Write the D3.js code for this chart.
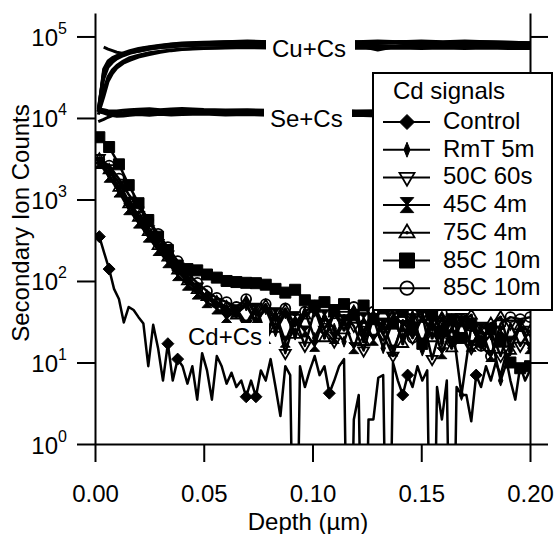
<!DOCTYPE html>
<html>
<head>
<meta charset="utf-8">
<style>
  body { margin: 0; background: #fff; }
  svg text { font-family: "Liberation Sans", Arial, sans-serif; fill: #000; font-size: 24px; }
  .axis path, .axis line { stroke: #000; stroke-width: 2; }
  .trace { fill: none; stroke: #000; stroke-linejoin: round; }
</style>
</head>
<body>
<svg id="chart" width="558" height="534"></svg>
<script src="https://cdn.jsdelivr.net/npm/d3@7"></script>
<script>
// Cu / Se matrix signals (shared depth grid, um)
const cuDepth = [0.0015, 0.004, 0.006, 0.008, 0.010, 0.013, 0.016, 0.020, 0.025, 0.030, 0.035, 0.040, 0.050, 0.060,
                 0.070, 0.080, 0.090, 0.100, 0.110, 0.120, 0.130, 0.140, 0.150, 0.160, 0.170, 0.180, 0.190, 0.200]
const cu1 = [12e3, 38e3, 47e3, 52e3, 56e3, 61e3, 65e3, 69e3, 72e3, 75e3, 77e3, 79e3, 81e3, 82e3, 82e3, 81e3, 82e3, 83e3, 82e3, 81e3, 82e3, 83e3, 82e3, 83e3, 82e3, 81e3, 80e3, 79e3]
const cu2 = [13e3, 35e3, 44e3, 50e3, 54e3, 60e3, 65e3, 70e3, 74e3, 77e3, 80e3, 82e3, 84e3, 86e3, 87e3, 86e3, 87e3, 86e3, 87e3, 86e3, 85e3, 87e3, 86e3, 85e3, 87e3, 86e3, 85e3, 84e3]
const cu3 = [12e3, 22e3, 32e3, 39e3, 44e3, 50e3, 55e3, 59e3, 63e3, 66e3, 68e3, 70e3, 72e3, 73e3, 74e3, 74e3, 75e3, 74e3, 75e3, 74e3, 75e3, 74e3, 75e3, 74e3, 73e3, 74e3, 73e3, 73e3]
const cu4 = [11e3, 18e3, 28e3, 35e3, 41e3, 47e3, 51e3, 56e3, 60e3, 64e3, 67e3, 69e3, 71e3, 72e3, 73e3, 72e3, 73e3, 72e3, 71e3, 72e3, 71e3, 72e3, 71e3, 72e3, 71e3, 72e3, 71e3, 71e3]
const cu5 = [null, 74e3, 70e3, 67e3, 64e3, 62e3, 63e3, 66e3, 70e3, 73e3, 75e3, 77e3, 79e3, 80e3, 81e3, 80e3, 81e3, 80e3, 79e3, 78e3, 68e3, 77e3, 80e3, 81e3, 80e3, 81e3, 80e3, 79e3]
const cu6 = [12e3, 40e3, 50e3, 55e3, 58e3, 63e3, 67e3, 71e3, 75e3, 78e3, 81e3, 83e3, 85e3, 86e3, 88e3, 86e3, 88e3, 86e3, 88e3, 86e3, 88e3, 86e3, 88e3, 86e3, 88e3, 86e3, 85e3, 84e3]
const cu7 = [12e3, 30e3, 42e3, 48e3, 53e3, 58e3, 62e3, 66e3, 70e3, 73e3, 75e3, 77e3, 78e3, 78e3, 77e3, 78e3, 77e3, 76e3, 77e3, 78e3, 77e3, 76e3, 77e3, 78e3, 77e3, 76e3, 76e3, 75e3]

const se1 = [12.5e3, 12.2e3, 11.8e3, 11.6e3, 11.5e3, 11.6e3, 11.8e3, 11.9e3, 12.1e3, 11.9e3, 12.2e3, 12.0e3, 11.8e3, 12.1e3, 11.9e3, 11.8e3, 11.9e3, 11.8e3, 11.7e3, 11.8e3, 11.7e3, 11.6e3, 11.5e3, 11.4e3, 11.3e3, 11.2e3, 11.1e3, 11.0e3]
const se2 = [13.0e3, 12.6e3, 12.3e3, 12.2e3, 12.2e3, 12.4e3, 12.6e3, 12.8e3, 13.0e3, 12.6e3, 12.9e3, 13.1e3, 12.7e3, 12.5e3, 12.6e3, 12.4e3, 12.5e3, 12.3e3, 12.4e3, 12.2e3, 12.3e3, 12.1e3, 12.0e3, 11.9e3, 11.8e3, 11.7e3, 11.6e3, 11.5e3]
const se3 = [12.0e3, 11.5e3, 11.0e3, 10.7e3, 10.5e3, 10.6e3, 10.8e3, 11.0e3, 10.8e3, 11.1e3, 10.9e3, 11.0e3, 11.2e3, 10.9e3, 11.0e3, 10.8e3, 10.9e3, 10.8e3, 10.7e3, 10.8e3, 10.6e3, 10.7e3, 10.5e3, 10.4e3, 10.4e3, 10.3e3, 10.2e3, 10.2e3]
const se4 = [9.0e3, 9.6e3, 10.2e3, 10.7e3, 11.0e3, 11.3e3, 11.5e3, 11.6e3, 11.4e3, 11.7e3, 11.5e3, 11.6e3, 11.5e3, 11.7e3, 11.5e3, 11.4e3, 11.5e3, 11.3e3, 11.4e3, 11.3e3, 11.2e3, 11.1e3, 11.0e3, 10.9e3, 10.8e3, 10.8e3, 10.7e3, 10.6e3]
const se5 = [12.8e3, 12.0e3, 11.5e3, 11.2e3, 11.1e3, 11.2e3, 11.4e3, 11.6e3, 11.5e3, 11.8e3, 11.6e3, 11.5e3, 11.7e3, 11.6e3, 11.4e3, 11.5e3, 11.6e3, 11.4e3, 11.5e3, 11.3e3, 11.2e3, 11.3e3, 11.1e3, 11.0e3, 10.9e3, 10.8e3, 10.8e3, 10.7e3]
const se6 = [12.2e3, 11.8e3, 11.3e3, 11.0e3, 10.9e3, 11.0e3, 11.2e3, 11.4e3, 11.6e3, 11.4e3, 11.5e3, 11.3e3, 11.5e3, 11.3e3, 11.4e3, 11.2e3, 11.3e3, 11.2e3, 11.1e3, 11.2e3, 11.0e3, 10.9e3, 10.9e3, 10.8e3, 10.7e3, 10.6e3, 10.6e3, 10.5e3]
const se7 = [11.8e3, 12.0e3, 11.7e3, 11.5e3, 11.4e3, 11.6e3, 11.9e3, 12.3e3, 12.0e3, 12.4e3, 12.1e3, 12.3e3, 12.0e3, 12.2e3, 12.3e3, 12.0e3, 11.9e3, 12.1e3, 12.0e3, 11.8e3, 11.7e3, 11.6e3, 11.5e3, 11.4e3, 11.3e3, 11.2e3, 11.1e3, 11.0e3]

// Cd signals: control is sampled finer than the annealed samples
const controlStart = 0.002, controlStep = 0.00225
const controlDepth = d3.range(89).map(i => controlStart + controlStep * i)
const control = [350, 220, 140, 80, 60, 31, 48, 44, 36, 30, 9, 29, 15, 6, 17, 6, 11, 9, 5.5, 9,
                 3.5, 13, 8, 3.5, 12, 9, 5.5, 7.5, 5, 6, 3.8, 6, 3.8, 8, 6, 11, 5, 2.2, 9, 7,
                 0, 9, 5, 8, 12, 7, 9, 4.2, 6, 9, 11, 0, 2, 4, 0, 2, 2, 6.5, 7, 0,
                 10, 6, 4, 7, 5, 9, 6, 8, 0, 5, 2, 6, 0, 5, 4, 4, 1.9, 7, 5, 9,
                 6, 10, 7, 12, 6, 3.5, 9, 6, 8]
const controlMarkerIdx = [0, 2, 14, 16, 30, 32, 47, 62, 63, 77]

const cdStart = 0.002, cdStep = 0.0045
const cdDepth = d3.range(45).map(i => cdStart + cdStep * i)
const rmt5m = [2900, 2000, 1300, 850, 560, 380, 260, 185, 130, 100, 75, 62, 50, 46, 40,
               50, 32, 45, 24, 40, 22, 42, 20, 36, 26, 18, 40, 22, 35, 15, 33, 20, 38, 14, 30, 18, 34, 4, 28, 16, 22, 6, 14, 30, 15]
const c50s60 = [3200, 2400, 1600, 950, 640, 430, 290, 210, 150, 108, 85, 62, 54, 40, 46,
                30, 48, 22, 42, 13, 35, 16, 44, 25, 18, 38, 28, 14, 36, 22, 12, 33, 20, 38, 11, 30, 18, 36, 15, 28, 24, 12, 30, 16, 25]
const c45m4 = [2800, 1900, 1250, 760, 520, 350, 240, 170, 118, 90, 70, 55, 46, 36, 42,
               28, 45, 20, 40, 18, 36, 24, 16, 38, 20, 33, 15, 35, 19, 30, 14, 28, 34, 17, 30, 13, 27, 32, 16, 26, 12, 24, 18, 28, 15]
const c75m4 = [3100, 2300, 1400, 880, 600, 400, 270, 195, 135, 100, 78, 64, 55, 48, 38,
               55, 30, 50, 26, 44, 22, 38, 46, 20, 40, 25, 42, 18, 36, 28, 44, 17, 34, 40, 20, 35, 15, 32, 38, 18, 30, 36, 14, 28, 24]
const c85m10a = [5800, 4400, 2700, 1500, 900, 560, 350, 240, 155, 140, 135, 120, 110, 100, 97,
                 95, 94, 90, 80, 72, 78, 58, 50, 55, 44, 52, 38, 50, 34, 46, 30, 42, 26, 17, 38, 24, 34, 20, 30, 18, 26, 18, 10, 8.5, 9]
const c85m10b = [3100, 2600, 1800, 1150, 800, 560, 380, 260, 175, 125, 95, 75, 62, 55, 48,
                 60, 38, 52, 32, 46, 28, 42, 50, 26, 40, 30, 48, 24, 42, 22, 38, 46, 20, 36, 25, 40, 18, 34, 28, 16, 12, 30, 36, 34, 36]

const legendNames = ["Control", "RmT 5m", "50C 60s", "45C 4m", "75C 4m", "85C 10m", "85C 10m"]
const xTicks = [0, 0.05, 0.10, 0.15, 0.20]
const yTicks = [1, 10, 100, 1e3, 1e4, 1e5]

// ---------------------------------------------------------------
const svg = d3.select("#chart")
const plotL = 95, plotR = 530, plotT = 13, plotB = 444

const x = d3.scaleLinear().domain([0, 0.2]).range([plotL, plotR])
const y = d3.scaleLog().domain([1, 1.94e5]).range([plotB, plotT])
const yv = v => y(Math.max(v, 1e-3))   // zero counts drop off the bottom

const lineGen = d3.line()
    .defined(d => d[1] != null)
    .x(d => x(d[0]))
    .y(d => yv(d[1]))

svg.append("clipPath").attr("id", "plotArea")
    .append("rect").attr("x", plotL).attr("y", plotT)
    .attr("width", plotR - plotL).attr("height", plotB - plotT)

const plot = svg.append("g").attr("clip-path", "url(#plotArea)")

// marker shapes, s = half size
function markerPath(type, s) {
    switch (type) {
        case "diamond": return `M0,${-s}L${s},0L0,${s}L${-s},0Z`
        case "thin": return `M0,${-s}L${s * 0.4},0L0,${s}L${-s * 0.4},0Z`
        case "triDown": return `M${-s},${-s * 0.6}L${s},${-s * 0.6}L0,${s * 1.1}Z`
        case "hourglass": return `M${-s * 0.9},${-s}L${s * 0.9},${-s}L0,0Z M${-s * 0.9},${s}L${s * 0.9},${s}L0,0Z`
        case "triUp": return `M${-s},${s * 0.6}L${s},${s * 0.6}L0,${-s * 1.1}Z M0.8,0A0.8,0.8 0 1,1 -0.8,0A0.8,0.8 0 1,1 0.8,0`
        case "square": return `M${-s},${-s}H${s}V${s}H${-s}Z`
        case "circle": { const r = s * 0.9; return `M${r},0A${r},${r} 0 1,1 ${-r},0A${r},${r} 0 1,1 ${r},0` }
    }
}
const filledMarkers = ["diamond", "thin", "hourglass", "square"]
function styleMarker(sel, type) {
    const filled = filledMarkers.includes(type)
    sel.attr("fill", filled ? "#000" : "none")
        .attr("stroke", "#000")
        .attr("stroke-width", filled ? 1 : 1.8)
}

// matrix signals
const cuSe = [cu1, cu2, cu3, cu4, cu5, cu6, cu7, se1, se2, se3, se4, se5, se6, se7]
cuSe.forEach(vals => {
    plot.append("path")
        .datum(vals.map((v, i) => [cuDepth[i], v]))
        .attr("class", "trace")
        .attr("stroke-width", 3)
        .attr("d", lineGen)
})

// Cd signals
const cdSeries = [
    { values: rmt5m, marker: "thin" },
    { values: c50s60, marker: "triDown" },
    { values: c45m4, marker: "hourglass" },
    { values: c75m4, marker: "triUp" },
    { values: c85m10a, marker: "square" },
    { values: c85m10b, marker: "circle" }
]
cdSeries.forEach(s => {
    const pts = s.values.map((v, i) => [cdDepth[i], v])
    plot.append("path").datum(pts)
        .attr("class", "trace").attr("stroke-width", 2.5)
        .attr("d", lineGen)
    plot.append("g").selectAll("path").data(pts).join("path")
        .attr("transform", d => `translate(${x(d[0])},${yv(d[1])})`)
        .attr("d", markerPath(s.marker, 5.5))
        .call(styleMarker, s.marker)
})

const controlPts = control.map((v, i) => [controlDepth[i], v])
plot.append("path").datum(controlPts)
    .attr("class", "trace").attr("stroke-width", 2.5)
    .attr("d", lineGen)
plot.append("g").selectAll("path").data(controlMarkerIdx.map(i => controlPts[i])).join("path")
    .attr("transform", d => `translate(${x(d[0])},${yv(d[1])})`)
    .attr("d", markerPath("diamond", 6))
    .call(styleMarker, "diamond")

// axes
const gLeft = svg.append("g").attr("class", "axis")
    .attr("transform", `translate(${plotL},0)`)
    .call(d3.axisLeft(y).tickValues(yTicks).tickSize(18).tickSizeOuter(0).tickFormat(""))
gLeft.selectAll(".tick").each(function (d) {
    const t = d3.select(this)
    t.append("text").attr("x", -37).attr("y", 9).attr("text-anchor", "end").text("10")
    t.append("text").attr("x", -37).attr("y", -3).attr("text-anchor", "start")
        .style("font-size", "16px").text(Math.round(Math.log10(d)))
})

svg.append("g").attr("class", "axis")
    .attr("transform", `translate(${plotR},0)`)
    .call(d3.axisRight(y).tickValues(yTicks).tickSize(18).tickSizeOuter(0).tickFormat(""))

const gBottom = svg.append("g").attr("class", "axis")
    .attr("transform", `translate(0,${plotB})`)
    .call(d3.axisBottom(x).tickValues(xTicks).tickSize(18).tickSizeOuter(0).tickFormat(d3.format(".2f")))
gBottom.selectAll("text").attr("y", 58).attr("dy", null).style("font-size", "24px")

svg.append("text")
    .attr("transform", "translate(29,223) rotate(-90)")
    .attr("text-anchor", "middle")
    .text("Secondary Ion Counts")
svg.append("text")
    .attr("x", 308).attr("y", 530)
    .attr("text-anchor", "middle")
    .text("Depth (µm)")

// annotation boxes
function tag(label, bx, by, bw, bh, tx, ty) {
    svg.append("rect").attr("x", bx).attr("y", by).attr("width", bw).attr("height", bh).attr("fill", "#fff")
    svg.append("text").attr("x", tx).attr("y", ty).text(label)
}
tag("Cu+Cs", 266, 33, 89, 30, 272, 57)
tag("Se+Cs", 264, 104, 88, 28, 270, 127)
tag("Cd+Cs", 185, 323, 84, 27, 188, 345)

// legend
const lg = svg.append("g")
lg.append("rect").attr("x", 373).attr("y", 73).attr("width", 179).attr("height", 237)
    .attr("fill", "#fff").attr("stroke", "#000").attr("stroke-width", 2)
lg.append("text").attr("x", 393).attr("y", 99).text("Cd signals")
const legendMarkers = ["diamond", "thin", "triDown", "hourglass", "triUp", "square", "circle"]
legendNames.forEach((name, k) => {
    const ry = 122 + 27.7 * k
    lg.append("line").attr("x1", 383).attr("x2", 430).attr("y1", ry).attr("y2", ry)
        .attr("stroke", "#000").attr("stroke-width", 2)
    lg.append("path").attr("transform", `translate(407,${ry})`)
        .attr("d", markerPath(legendMarkers[k], 7.5))
        .call(styleMarker, legendMarkers[k])
    lg.append("text").attr("x", 443).attr("y", ry + 7).text(name)
})
</script>
</body>
</html>
